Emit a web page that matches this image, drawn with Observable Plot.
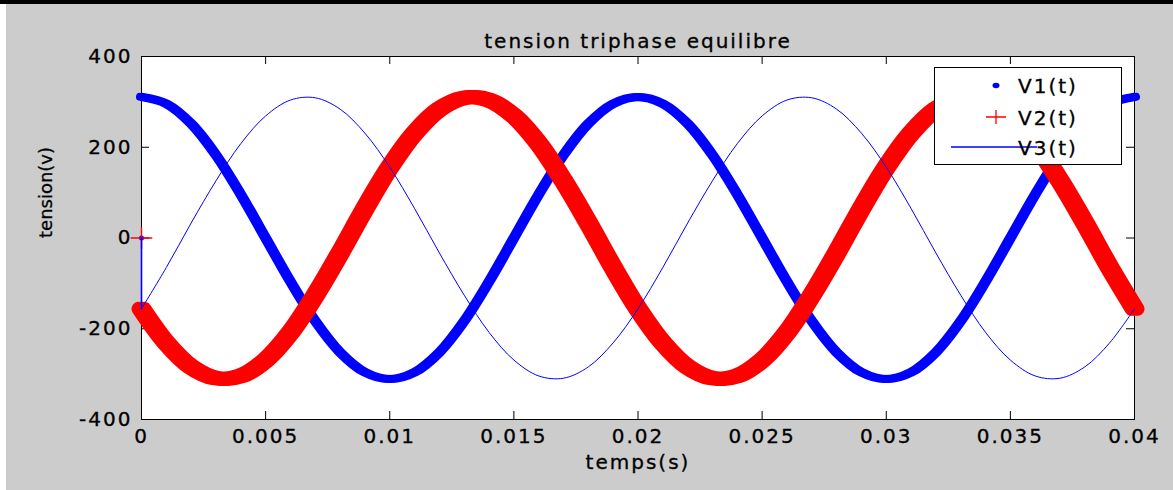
<!DOCTYPE html>
<html>
<head>
<meta charset="utf-8">
<script src="https://cdn.jsdelivr.net/npm/d3@7"></script>
<script src="https://cdn.jsdelivr.net/npm/@observablehq/plot@0.6"></script>
<style>
  body { margin: 0; background: #ffffff; }
  #chart { position: absolute; left: 0; top: 0; }
  #chart svg text { letter-spacing: 2px; stroke: #000; stroke-width: 0.3px; paint-order: fill; }
  .topbar { position: absolute; left: 0; top: 0; width: 1173px; height: 4px; background: #000; }
  .leftstrip { position: absolute; left: 0; top: 4px; width: 6px; height: 486px; background: #fff; }
</style>
</head>
<body>
<div id="chart"></div>
<div class="topbar"></div>
<div class="leftstrip"></div>
<script>
// Sample times (s). The first entry is the initial zero state, then one sample per ms.
const temps = [0,
  0, 0.001, 0.002, 0.003, 0.004, 0.005, 0.006, 0.007, 0.008, 0.009,
  0.010, 0.011, 0.012, 0.013, 0.014, 0.015, 0.016, 0.017, 0.018, 0.019,
  0.020, 0.021, 0.022, 0.023, 0.024, 0.025, 0.026, 0.027, 0.028, 0.029,
  0.030, 0.031, 0.032, 0.033, 0.034, 0.035, 0.036, 0.037, 0.038, 0.039, 0.040];

// Phase voltages (V)
const v1 = [0,
  311, 296, 252, 183, 96, 0, -96, -183, -252, -296,
  -311, -296, -252, -183, -96, 0, 96, 183, 252, 296,
  311, 296, 252, 183, 96, 0, -96, -183, -252, -296,
  -311, -296, -252, -183, -96, 0, 96, 183, 252, 296, 311];
const v2 = [0,
  -156, -231, -284, -309, -304, -269, -208, -126, -33, 65,
  156, 231, 284, 309, 304, 269, 208, 126, 33, -65,
  -156, -231, -284, -309, -304, -269, -208, -126, -33, 65,
  156, 231, 284, 309, 304, 269, 208, 126, 33, -65, -156];
const v3 = [0,
  -156, -65, 33, 126, 208, 269, 304, 309, 284, 231,
  156, 65, -33, -126, -208, -269, -304, -309, -284, -231,
  -156, -65, 33, 126, 208, 269, 304, 309, 284, 231,
  156, 65, -33, -126, -208, -269, -304, -309, -284, -231, -156];

const seriesNames = ["V1(t)", "V2(t)", "V3(t)"];
const xTicks = [0, 0.005, 0.01, 0.015, 0.02, 0.025, 0.03, 0.035, 0.04];
const yTicks = [-400, -200, 0, 200, 400];
const titleText = "tension triphase equilibre";
const xLabel = "temps(s)";
const yLabel = "tension(v)";

const BLUE = "#0000ff", RED = "#ff0000";

const rows = temps.map((t, i) => ({t, v1: v1[i], v2: v2[i], v3: v3[i]}));
const start = rows.slice(0, 1);      // initial zero state
const wave = rows.slice(1);          // the sampled waveforms
const jump = rows.slice(0, 2);       // step from zero to the first sample

const W = 1173, H = 490;
const mL = 141, mR = 39, mT = 56, mB = 71;
const plotW = W - mL - mR, plotH = H - mT - mB;
const tick = 8;

// dense marker traces are drawn as thick strokes, widened a little horizontally
const band = (key, color, width, offsets) =>
  offsets.map(dx => Plot.line(wave, {
    x: "t", y: key, stroke: color, strokeWidth: width,
    curve: "catmull-rom", strokeLinecap: "round", strokeLinejoin: "round", dx
  }));

const chart = Plot.plot({
  width: W, height: H,
  marginLeft: mL, marginRight: mR, marginTop: mT, marginBottom: mB,
  style: {background: "#cccccc", fontFamily: "'DejaVu Sans', sans-serif", fontSize: "20px", color: "#000"},
  x: {domain: [0, 0.04], axis: null, label: null},
  y: {domain: [-400, 400], axis: null, label: null},
  marks: [
    Plot.frame({fill: "white", stroke: "black"}),
    // inward tick marks on all four sides
    Plot.ruleX(xTicks, {x: d => d, insetTop: plotH - tick, stroke: "black"}),
    Plot.ruleX(xTicks, {x: d => d, insetBottom: plotH - tick, stroke: "black"}),
    Plot.ruleY(yTicks, {y: d => d, insetRight: plotW - tick, stroke: "black"}),
    Plot.ruleY(yTicks, {y: d => d, insetLeft: plotW - tick, stroke: "black"}),
    Plot.axisX(xTicks, {tickSize: 0, tickPadding: 9, label: null, tickFormat: d => String(d)}),
    Plot.axisY(yTicks, {tickSize: 0, tickPadding: 9, label: null, tickFormat: d => String(d)}),
    // V1: blue point markers
    ...band("v1", BLUE, 8, [-1.5, 1.5]),
    Plot.dot(start, {x: "t", y: "v1", r: 2.5, fill: BLUE}),
    // V2: red plus markers
    ...band("v2", RED, 14, [-3, 0, 3]),
    Plot.dot(start, {x: "t", y: "v2", symbol: "plus", r: 7, stroke: RED, strokeWidth: 1.4}),
    // V3: thin blue line
    Plot.line(jump, {x: "t", y: "v3", stroke: BLUE, strokeWidth: 1.6}),
    Plot.line(wave, {x: "t", y: "v3", stroke: BLUE, strokeWidth: 1, curve: "catmull-rom"}),
    // title and axis labels
    Plot.text([titleText], {frameAnchor: "top", dy: -23, fontSize: 20}),
    Plot.text([xLabel], {frameAnchor: "bottom", dy: 49, fontSize: 20}),
    Plot.text([yLabel], {frameAnchor: "left", dx: -95.5, rotate: -90, fontSize: 18})
  ]
});
document.getElementById("chart").appendChild(chart);

const svg = d3.select(chart);
// the rotated axis title uses normal spacing
svg.selectAll("text").filter(function () { return this.textContent === yLabel; })
  .style("letter-spacing", "0");

// legend box in the upper right corner of the axes
const lg = svg.append("g").attr("class", "legend");
lg.append("rect").attr("x", 934.5).attr("y", 67.5).attr("width", 187).attr("height", 97)
  .attr("fill", "white").attr("stroke", "black").attr("stroke-width", 1);
const rowsY = [85.5, 117, 147];
// V1 marker
lg.append("ellipse").attr("cx", 996).attr("cy", rowsY[0]).attr("rx", 3.5).attr("ry", 2.8).attr("fill", BLUE);
// V2 marker
lg.append("path").attr("d", `M${986},${rowsY[1]}H${1006}M${996},${rowsY[1] - 7}V${rowsY[1] + 7}`)
  .attr("stroke", RED).attr("stroke-width", 1.3).attr("fill", "none");
// V3 line sample
lg.append("line").attr("x1", 951).attr("x2", 1037).attr("y1", rowsY[2]).attr("y2", rowsY[2])
  .attr("stroke", BLUE).attr("stroke-width", 1.3);
lg.selectAll("text.entry").data(seriesNames).join("text")
  .attr("class", "entry")
  .attr("x", 1048).attr("y", (d, i) => rowsY[i] + 7.5)
  .attr("font-size", 20).attr("fill", "#000")
  .text(d => d);
</script>
</body>
</html>
